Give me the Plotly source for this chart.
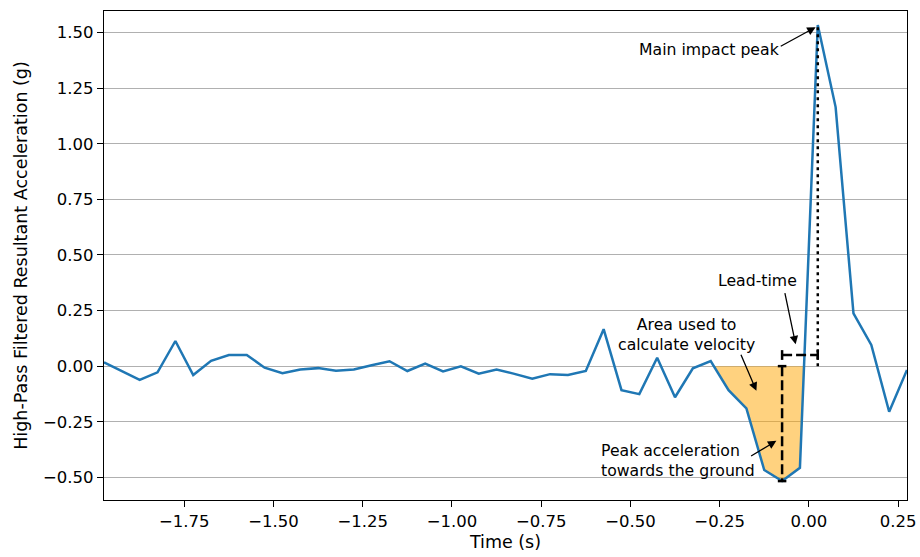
import numpy as np
import plotly.graph_objects as go

# Sample times (s), 20 Hz, relative to impact detection
time_s = [
    -1.975, -1.925, -1.875, -1.825, -1.775, -1.725, -1.675, -1.625, -1.575, -1.525,
    -1.475, -1.425, -1.375, -1.325, -1.275, -1.225, -1.175, -1.125, -1.075, -1.025,
    -0.975, -0.925, -0.875, -0.825, -0.775, -0.725, -0.675, -0.625, -0.575, -0.525,
    -0.475, -0.425, -0.375, -0.325, -0.275, -0.225, -0.175, -0.125, -0.075, -0.025,
    0.025, 0.075, 0.125, 0.175, 0.225, 0.275,
]

# High-pass filtered resultant acceleration (g)
accel_g = [
    0.017, -0.022, -0.062, -0.028, 0.113, -0.040, 0.024, 0.050, 0.050, -0.007,
    -0.032, -0.015, -0.009, -0.021, -0.015, 0.004, 0.022, -0.022, 0.011, -0.024,
    -0.001, -0.034, -0.015, -0.035, -0.057, -0.036, -0.040, -0.022, 0.166, -0.108,
    -0.126, 0.038, -0.140, -0.010, 0.023, -0.108, -0.190, -0.467, -0.517, -0.457,
    1.534, 1.165, 0.237, 0.095, -0.205, -0.017,
]

x_ticks = [-1.75, -1.50, -1.25, -1.00, -0.75, -0.50, -0.25, 0.00, 0.25]
y_ticks = [-0.50, -0.25, 0.00, 0.25, 0.50, 0.75, 1.00, 1.25, 1.50]

lead_bar_level = 0.05  # height of the lead-time bracket (g)

t = np.array(time_s)
a = np.array(accel_g)

i_min = int(np.argmin(a))   # peak acceleration towards the ground
i_max = int(np.argmax(a))   # main impact peak
t_min, a_min = t[i_min], a[i_min]
t_max, a_max = t[i_max], a[i_max]

# Negative lobe before impact: bounded by the zero crossings around the minimum
lo = i_min
while lo > 0 and a[lo - 1] < 0:
    lo -= 1
hi = i_min
while hi < len(a) - 1 and a[hi + 1] < 0:
    hi += 1


def zero_cross(i0, i1):
    return t[i0] + (t[i1] - t[i0]) * (0 - a[i0]) / (a[i1] - a[i0])


t_left = zero_cross(lo - 1, lo)
t_right = zero_cross(hi, hi + 1)
fill_x = [t_left] + list(t[lo:hi + 1]) + [t_right]
fill_y = [0.0] + list(a[lo:hi + 1]) + [0.0]

fig = go.Figure()

fig.add_trace(go.Scatter(
    x=fill_x, y=fill_y, fill="toself", mode="none",
    fillcolor="rgba(255,165,0,0.5)", hoverinfo="skip", showlegend=False,
))

fig.add_trace(go.Scatter(
    x=t, y=a, mode="lines", line=dict(color="#1f77b4", width=2.5),
    showlegend=False,
))

# Dashed marker from zero down to the acceleration minimum, with end caps
cap_t = 0.012
cap_a = 0.022
fig.add_trace(go.Scatter(
    x=[t_min, t_min], y=[0, a_min], mode="lines",
    line=dict(color="black", width=2.5, dash="10px,4px"), showlegend=False,
))
for yy in (0, a_min):
    fig.add_trace(go.Scatter(
        x=[t_min - cap_t, t_min + cap_t], y=[yy, yy], mode="lines",
        line=dict(color="black", width=2.5), showlegend=False,
    ))

# Dotted marker from zero up to the main impact peak
fig.add_trace(go.Scatter(
    x=[t_max, t_max], y=[0, a_max], mode="lines",
    line=dict(color="black", width=2.5, dash="3px,4px"), showlegend=False,
))

# Lead-time bracket between the minimum and the impact peak
fig.add_trace(go.Scatter(
    x=[t_min, t_max], y=[lead_bar_level, lead_bar_level], mode="lines",
    line=dict(color="black", width=2.5, dash="10px,4px"), showlegend=False,
))
for xx in (t_min, t_max):
    fig.add_trace(go.Scatter(
        x=[xx, xx], y=[lead_bar_level - cap_a, lead_bar_level + cap_a], mode="lines",
        line=dict(color="black", width=2.5), showlegend=False,
    ))

font = dict(family="DejaVu Sans", size=16.5, color="black")
title_font = dict(family="DejaVu Sans", size=17.5, color="black")
ann_font = dict(family="DejaVu Sans", size=15.7, color="black")


def arrow(x_head, y_head, x_tail, y_tail):
    return dict(
        x=x_head, y=y_head, ax=x_tail, ay=y_tail, xref="x", yref="y",
        axref="x", ayref="y", text="", showarrow=True, arrowhead=2,
        arrowsize=1.3, arrowwidth=1.3, arrowcolor="black", standoff=0,
    )


annotations = [
    dict(x=-0.075, y=1.422, xref="x", yref="y", text="Main impact peak",
         showarrow=False, xanchor="right", yanchor="middle", font=ann_font),
    arrow(t_max - 0.006, a_max - 0.01, -0.083, 1.435),
    dict(x=-0.144, y=0.387, xref="x", yref="y", text="Lead-time",
         showarrow=False, xanchor="center", yanchor="middle", font=ann_font),
    arrow(-0.037, 0.098, -0.068, 0.335),
    dict(x=-0.344, y=0.142, xref="x", yref="y",
         text="Area used to<br>calculate velocity", align="center",
         showarrow=False, xanchor="center", yanchor="middle", font=ann_font),
    arrow(-0.147, -0.111, -0.192, 0.058),
    dict(x=-0.588, y=-0.424, xref="x", yref="y",
         text="Peak acceleration<br>towards the ground", align="left",
         showarrow=False, xanchor="left", yanchor="middle", font=ann_font),
    arrow(-0.091, -0.336, -0.166, -0.408),
]

fig.update_layout(
    width=920, height=557,
    margin=dict(l=104, r=13, t=11, b=57),
    paper_bgcolor="white", plot_bgcolor="white",
    font=font,
    annotations=annotations,
    showlegend=False,
)

fig.update_xaxes(
    range=[-1.975, 0.275], tickvals=x_ticks, tickformat=".2f",
    ticks="outside", ticklen=6, tickwidth=1.2, tickcolor="black",
    showgrid=False, zeroline=False, automargin=False,
    showline=True, linecolor="black", linewidth=1.2, mirror=True,
    title=dict(text="Time (s)", font=title_font, standoff=5),
    tickfont=font,
)
fig.update_yaxes(
    range=[-0.602, 1.597], tickvals=y_ticks, tickformat=".2f",
    ticks="outside", ticklen=6, tickwidth=1.2, tickcolor="black",
    showgrid=True, gridcolor="#b0b0b0", gridwidth=1.2, zeroline=False,
    automargin=False,
    showline=True, linecolor="black", linewidth=1.2, mirror=True,
    title=dict(text="High-Pass Filtered Resultant Acceleration (g)", font=title_font, standoff=10),
    tickfont=font,
)

fig.write_html("out.html")
